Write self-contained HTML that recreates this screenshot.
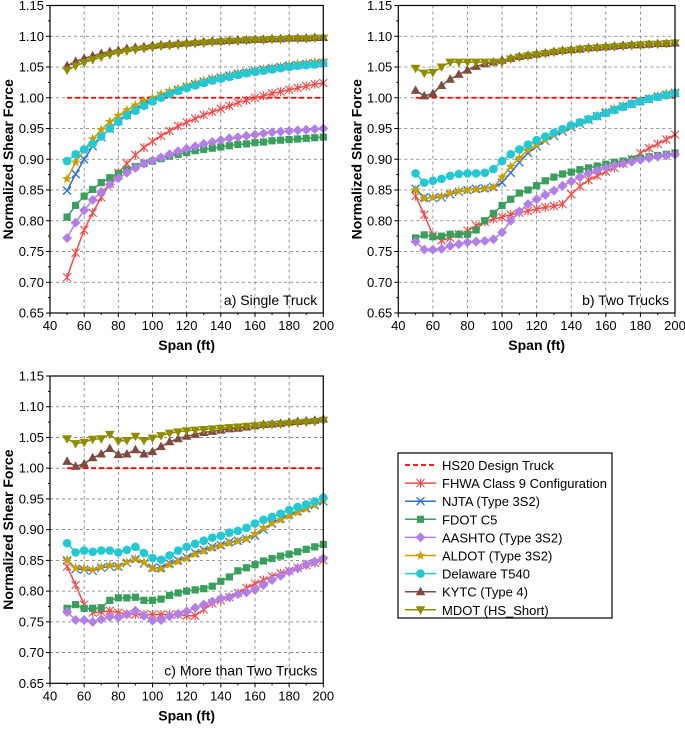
<!DOCTYPE html>
<html><head><meta charset="utf-8"><style>
html,body{margin:0;padding:0;background:#fff;width:685px;height:730px;overflow:hidden}
svg{display:block;font-family:"Liberation Sans",Arial,sans-serif}
</style></head><body>
<svg id="chart" width="685" height="730" viewBox="0 0 685 730"></svg>
<script>
const spans = [50,55,60,65,70,75,80,85,90,95,100,105,110,115,120,125,130,135,140,145,150,155,160,165,170,175,180,185,190,195,200];
const xTicks = [40,60,80,100,120,140,160,180,200];
const yTicks = [0.65,0.70,0.75,0.80,0.85,0.90,0.95,1.00,1.05,1.10,1.15];
const seriesNames = ["HS20 Design Truck","FHWA Class 9 Configuration","NJTA (Type 3S2)","FDOT C5","AASHTO (Type 3S2)","ALDOT (Type 3S2)","Delaware T540","KYTC (Type 4)","MDOT (HS_Short)"];
const panelTitles = ["a) Single Truck","b) Two Trucks","c) More than Two Trucks"];

const aFHWA=[0.708,0.748,0.785,0.813,0.838,0.86,0.878,0.893,0.907,0.919,0.929,0.938,0.946,0.954,0.96,0.966,0.972,0.977,0.982,0.987,0.992,0.996,1.0,1.003,1.007,1.01,1.013,1.016,1.019,1.022,1.024];
const aNJTA=[0.849,0.876,0.9,0.921,0.936,0.95,0.962,0.972,0.981,0.989,0.996,1.003,1.008,1.013,1.018,1.022,1.026,1.03,1.033,1.036,1.039,1.041,1.044,1.046,1.048,1.05,1.052,1.053,1.055,1.056,1.057];
const aFDOT=[0.806,0.825,0.84,0.851,0.862,0.87,0.877,0.883,0.888,0.893,0.897,0.901,0.905,0.908,0.911,0.914,0.916,0.918,0.92,0.922,0.924,0.925,0.927,0.928,0.93,0.931,0.932,0.933,0.934,0.935,0.936];
const aAASHTO=[0.772,0.797,0.817,0.834,0.847,0.859,0.869,0.878,0.886,0.893,0.898,0.903,0.908,0.913,0.917,0.921,0.925,0.928,0.931,0.934,0.936,0.938,0.94,0.942,0.944,0.945,0.946,0.947,0.948,0.949,0.95];
const aALDOT=[0.868,0.895,0.915,0.933,0.948,0.961,0.971,0.98,0.988,0.995,1.0,1.006,1.011,1.015,1.02,1.024,1.028,1.031,1.034,1.037,1.04,1.042,1.044,1.047,1.049,1.051,1.053,1.055,1.056,1.058,1.06];
const aDEL=[0.897,0.908,0.916,0.925,0.937,0.95,0.961,0.971,0.979,0.987,0.994,1.0,1.006,1.011,1.016,1.02,1.024,1.028,1.031,1.034,1.037,1.04,1.042,1.044,1.046,1.048,1.05,1.052,1.053,1.054,1.056];
const aKYTC=[1.052,1.059,1.064,1.068,1.072,1.075,1.077,1.08,1.082,1.083,1.085,1.086,1.087,1.088,1.089,1.09,1.091,1.092,1.092,1.093,1.094,1.094,1.095,1.095,1.096,1.096,1.097,1.097,1.097,1.098,1.098];
const aMDOT=[1.045,1.052,1.057,1.062,1.066,1.07,1.073,1.076,1.078,1.08,1.082,1.084,1.085,1.086,1.087,1.088,1.089,1.09,1.091,1.092,1.092,1.093,1.094,1.094,1.095,1.095,1.096,1.096,1.096,1.097,1.097];

const bFHWA=[0.84,0.81,0.776,0.768,0.772,0.778,0.784,0.792,0.798,0.803,0.806,0.81,0.813,0.816,0.819,0.822,0.824,0.827,0.843,0.856,0.866,0.873,0.88,0.886,0.893,0.9,0.91,0.918,0.925,0.932,0.94];
const bNJTA=[0.852,0.838,0.837,0.838,0.843,0.847,0.85,0.852,0.853,0.855,0.862,0.878,0.895,0.91,0.921,0.93,0.938,0.945,0.952,0.958,0.964,0.97,0.976,0.981,0.986,0.99,0.994,0.998,1.002,1.005,1.008];
const bFDOT=[0.772,0.777,0.774,0.775,0.778,0.778,0.778,0.785,0.8,0.812,0.825,0.835,0.845,0.85,0.857,0.865,0.871,0.876,0.879,0.883,0.886,0.889,0.892,0.895,0.897,0.9,0.902,0.904,0.906,0.908,0.91];
const bAASHTO=[0.766,0.753,0.753,0.754,0.759,0.762,0.765,0.766,0.767,0.77,0.781,0.8,0.815,0.827,0.835,0.842,0.849,0.857,0.864,0.871,0.877,0.882,0.886,0.89,0.893,0.896,0.899,0.902,0.904,0.906,0.908];
const bALDOT=[0.85,0.836,0.838,0.84,0.845,0.848,0.85,0.851,0.852,0.854,0.871,0.888,0.902,0.915,0.924,0.932,0.94,0.947,0.953,0.959,0.965,0.971,0.977,0.982,0.987,0.991,0.995,0.999,1.003,1.007,1.01];
const bDEL=[0.877,0.862,0.865,0.868,0.873,0.876,0.877,0.877,0.878,0.884,0.897,0.908,0.916,0.924,0.931,0.937,0.943,0.949,0.955,0.96,0.965,0.97,0.975,0.98,0.985,0.99,0.994,0.998,1.001,1.004,1.007];
const bKYTC=[1.012,1.003,1.007,1.02,1.03,1.038,1.045,1.051,1.055,1.058,1.061,1.064,1.067,1.069,1.071,1.073,1.075,1.077,1.078,1.079,1.081,1.082,1.083,1.084,1.085,1.086,1.086,1.087,1.088,1.088,1.089];
const bMDOT=[1.048,1.04,1.041,1.05,1.058,1.058,1.058,1.058,1.058,1.058,1.058,1.063,1.066,1.068,1.07,1.072,1.074,1.076,1.077,1.079,1.08,1.081,1.082,1.083,1.084,1.085,1.086,1.087,1.087,1.088,1.089];

const cFHWA=[0.84,0.81,0.778,0.765,0.766,0.768,0.765,0.763,0.762,0.762,0.762,0.762,0.762,0.762,0.76,0.76,0.77,0.78,0.785,0.79,0.797,0.805,0.812,0.818,0.824,0.829,0.833,0.838,0.842,0.846,0.85];
const cNJTA=[0.85,0.836,0.835,0.833,0.838,0.84,0.84,0.846,0.852,0.845,0.838,0.838,0.845,0.85,0.855,0.862,0.867,0.872,0.875,0.88,0.882,0.885,0.89,0.9,0.91,0.918,0.925,0.93,0.935,0.94,0.946];
const cFDOT=[0.772,0.778,0.772,0.772,0.773,0.785,0.789,0.789,0.79,0.785,0.785,0.787,0.793,0.797,0.8,0.802,0.804,0.808,0.816,0.823,0.833,0.838,0.843,0.849,0.853,0.857,0.86,0.864,0.868,0.872,0.876];
const cAASHTO=[0.766,0.753,0.753,0.75,0.754,0.758,0.757,0.762,0.768,0.76,0.752,0.753,0.759,0.763,0.767,0.773,0.778,0.783,0.788,0.79,0.795,0.798,0.802,0.81,0.818,0.825,0.832,0.837,0.843,0.848,0.853];
const cALDOT=[0.851,0.838,0.837,0.835,0.839,0.842,0.84,0.847,0.852,0.847,0.837,0.836,0.843,0.848,0.853,0.86,0.865,0.87,0.874,0.878,0.881,0.885,0.893,0.903,0.91,0.916,0.922,0.928,0.934,0.94,0.948];
const cDEL=[0.878,0.863,0.866,0.864,0.866,0.866,0.863,0.867,0.872,0.862,0.854,0.851,0.858,0.866,0.872,0.877,0.882,0.887,0.89,0.895,0.898,0.903,0.91,0.916,0.921,0.926,0.932,0.937,0.941,0.946,0.952];
const cKYTC=[1.011,1.003,1.007,1.017,1.023,1.032,1.022,1.023,1.03,1.023,1.027,1.035,1.043,1.048,1.052,1.055,1.058,1.06,1.062,1.064,1.065,1.067,1.069,1.071,1.072,1.073,1.075,1.076,1.077,1.078,1.08];
const cMDOT=[1.048,1.04,1.042,1.047,1.048,1.055,1.044,1.045,1.052,1.045,1.049,1.053,1.057,1.059,1.061,1.062,1.063,1.064,1.065,1.066,1.067,1.068,1.069,1.07,1.071,1.072,1.073,1.074,1.075,1.076,1.078];
const hs20Value = 1.0;

const NS="http://www.w3.org/2000/svg";
const svg=document.getElementById('chart');
function mk(tag,attrs,parent){const e=document.createElementNS(NS,tag);for(const k in attrs)e.setAttribute(k,attrs[k]);(parent||svg).appendChild(e);return e;}

const styles=[
 {c:"#ff0000",m:"none"},{c:"#f24a4a",m:"asterisk"},{c:"#2f6fd6",m:"x"},{c:"#3a9f5c",m:"square"},
 {c:"#b27fe6",m:"diamond"},{c:"#c9a000",m:"star"},{c:"#22c9d2",m:"circle"},{c:"#7d4b40",m:"tri"},{c:"#8f8c00",m:"tridown"}];

function marker(g,type,x,y,c){
 if(type==="square") return mk('rect',{x:x-3.6,y:y-3.6,width:7.2,height:7.2,fill:c},g);
 if(type==="circle") return mk('circle',{cx:x,cy:y,r:4.3,fill:c},g);
 if(type==="diamond") return mk('polygon',{points:`${x},${y-5} ${x+5},${y} ${x},${y+5} ${x-5},${y}`,fill:c},g);
 if(type==="tri") return mk('polygon',{points:`${x},${y-5} ${x+4.8},${y+3.5} ${x-4.8},${y+3.5}`,fill:c},g);
 if(type==="tridown") return mk('polygon',{points:`${x},${y+5} ${x+4.8},${y-3.5} ${x-4.8},${y-3.5}`,fill:c},g);
 if(type==="star"){let p=[];for(let i=0;i<10;i++){const r=i%2?2.2:5.2,a=-Math.PI/2+i*Math.PI/5;p.push((x+r*Math.cos(a)).toFixed(2)+","+(y+r*Math.sin(a)).toFixed(2));}return mk('polygon',{points:p.join(" "),fill:c},g);}
 if(type==="x") return mk('path',{d:`M${x-4},${y-4}L${x+4},${y+4}M${x-4},${y+4}L${x+4},${y-4}`,stroke:c,'stroke-width':1.3,fill:"none"},g);
 if(type==="asterisk") return mk('path',{d:`M${x-4},${y-4}L${x+4},${y+4}M${x-4},${y+4}L${x+4},${y-4}M${x},${y-4.5}L${x},${y+4.5}`,stroke:c,'stroke-width':1.1,fill:"none"},g);
}

const panels=[
 {L:50,R:323.3,T:5.5,B:313,data:[null,aFHWA,aNJTA,aFDOT,aAASHTO,aALDOT,aDEL,aKYTC,aMDOT]},
 {L:398.3,R:675,T:5.5,B:313,data:[null,bFHWA,bNJTA,bFDOT,bAASHTO,bALDOT,bDEL,bKYTC,bMDOT]},
 {L:50,R:323.3,T:376,B:683.3,data:[null,cFHWA,cNJTA,cFDOT,cAASHTO,cALDOT,cDEL,cKYTC,cMDOT]}];
const names=["panel-single-truck","panel-two-trucks","panel-more-than-two-trucks"];

panels.forEach((p,pi)=>{
 const g=mk('g',{});
 
 
 const xs=v=>p.L+(v-40)/160*(p.R-p.L);
 const ys=v=>p.B-(v-0.65)/0.5*(p.B-p.T);
 xTicks.forEach(t=>{if(t>40&&t<200)mk('line',{x1:xs(t),x2:xs(t),y1:p.T,y2:p.B,stroke:"#777",'stroke-width':0.8,'stroke-dasharray':"3,3"},g);});
 yTicks.forEach(t=>{if(t>0.66&&t<1.14)mk('line',{x1:p.L,x2:p.R,y1:ys(t),y2:ys(t),stroke:"#777",'stroke-width':0.8,'stroke-dasharray':"3,3"},g);});
 const tl=mk('g',{},g);
 
 
 xTicks.forEach(t=>{
  mk('line',{x1:xs(t),x2:xs(t),y1:p.B,y2:p.B+4,stroke:"#000"},g);
  const tx=mk('text',{x:xs(t),y:p.B+17,'font-size':13,'text-anchor':'middle',fill:"#000"},tl);tx.textContent=t;
 });
 for(let t=50;t<200;t+=20){mk('line',{x1:xs(t),x2:xs(t),y1:p.B,y2:p.B+2,stroke:"#000"},g);}
 const yl=mk('g',{},g);
 
 
 yTicks.forEach(t=>{
  mk('line',{x1:p.L-4,x2:p.L,y1:ys(t),y2:ys(t),stroke:"#000"},g);
  const tx=mk('text',{x:p.L-6,y:ys(t)+4.5,'font-size':13,'text-anchor':'end',fill:"#000"},yl);tx.textContent=t.toFixed(2);
 });
 for(let t=0.675;t<1.15;t+=0.05){mk('line',{x1:p.L-2,x2:p.L,y1:ys(t),y2:ys(t),stroke:"#000"},g);}
 const yt=mk('text',{x:0,y:0,'font-size':14,'font-weight':'bold','text-anchor':'middle',transform:`translate(${p.L-37},${(p.T+p.B)/2}) rotate(-90)`},g);
 yt.textContent="Normalized Shear Force";
 
 
 const xt=mk('text',{x:(p.L+p.R)/2,y:p.B+37,'font-size':14,'font-weight':'bold','text-anchor':'middle'},g);
 xt.textContent="Span (ft)";
 
 
 const hs=mk('line',{x1:xs(50),x2:xs(200),y1:ys(hs20Value),y2:ys(hs20Value),stroke:"#ff0000",'stroke-width':1.8,'stroke-dasharray':"5,3"},g);
 
 
 for(let s=1;s<9;s++){
  const vals=p.data[s],st=styles[s];
  const sg=mk('g',{},g);
  
  
  mk('polyline',{points:vals.map((v,i)=>xs(spans[i]).toFixed(2)+","+ys(v).toFixed(2)).join(" "),fill:"none",stroke:st.c,'stroke-width':1.5},sg);
  vals.forEach((v,i)=>marker(sg,st.m,xs(spans[i]),ys(v),st.c));
 }
 mk('rect',{x:p.L,y:p.T,width:p.R-p.L,height:p.B-p.T,fill:"none",stroke:"#000",'stroke-width':1.2},g);
 const pt=mk('text',{x:p.R-6,y:p.B-8,'font-size':14,'text-anchor':'end',fill:"#000"},g);
 pt.textContent=panelTitles[pi];
 
 
});

const lg=mk('g',{});


mk('rect',{x:398,y:453,width:214,height:165,fill:"#fff",stroke:"#000",'stroke-width':1.2},lg);
seriesNames.forEach((n,i)=>{
 const y=465+i*18.1;
 const e=mk('g',{},lg);
 
 
 const st=styles[i];
 if(i===0) mk('line',{x1:405,x2:436,y1:y,y2:y,stroke:st.c,'stroke-width':1.8,'stroke-dasharray':"5,3"},e);
 else {mk('line',{x1:405,x2:436,y1:y,y2:y,stroke:st.c,'stroke-width':1.5},e);marker(e,st.m,420.5,y,st.c);}
 const t=mk('text',{x:442,y:y+5,'font-size':13,fill:"#000"},e);t.textContent=n;
});
</script>
</body></html>
